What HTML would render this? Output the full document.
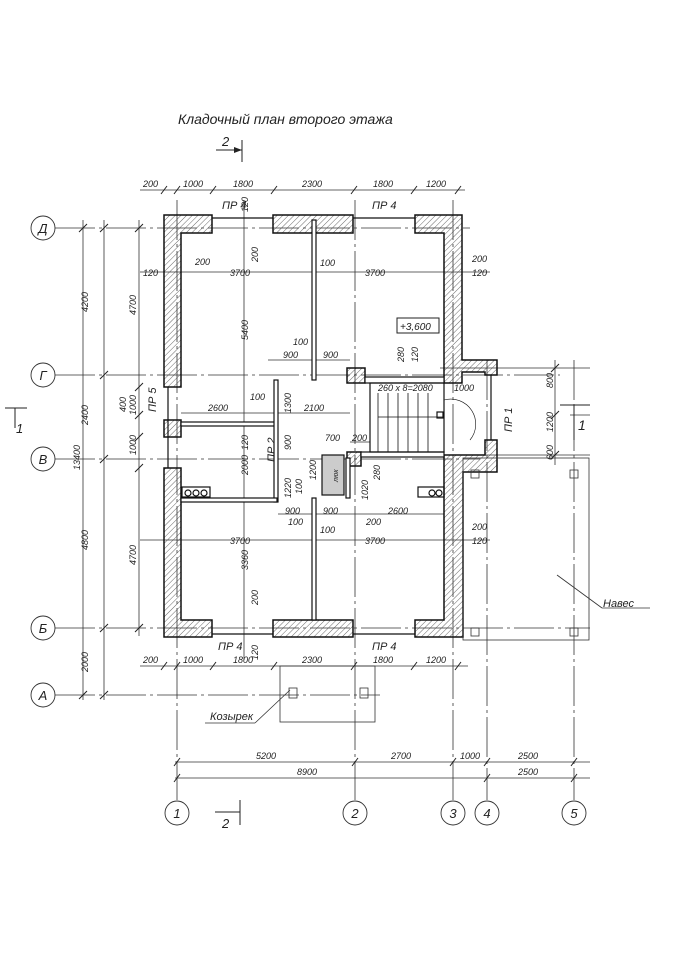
<!DOCTYPE html>
<html><head><meta charset="utf-8"><style>
html,body{margin:0;padding:0;background:#fff;}
svg{display:block;}
text{font-family:"Liberation Sans","DejaVu Sans",sans-serif;font-style:italic;fill:#222;}
</style></head><body>
<svg width="676" height="960" viewBox="0 0 676 960" xmlns="http://www.w3.org/2000/svg">
<defs>
<pattern id="h" width="4" height="4" patternUnits="userSpaceOnUse" patternTransform="rotate(45)">
<line x1="0" y1="0" x2="0" y2="4" stroke="#444" stroke-width="0.8"/>
</pattern>
</defs>
<rect width="676" height="960" fill="#fff"/>
<text x="178" y="124" font-size="14">Кладочный план второго этажа</text>
<text x="222" y="146" font-size="13">2</text>
<line x1="216" y1="150" x2="242" y2="150" stroke="#222"/><line x1="242" y1="140" x2="242" y2="162" stroke="#222"/>
<polygon points="242,150 234,147 234,153" fill="#222"/>

<g stroke="#333" stroke-width="0.8" fill="none">
<g stroke-dasharray="40,4,3,4">
<line x1="55" y1="228" x2="470" y2="228"/>
<line x1="55" y1="375" x2="560" y2="375"/>
<line x1="55" y1="459" x2="480" y2="459"/>
<line x1="55" y1="628" x2="590" y2="628"/>
<line x1="55" y1="695" x2="380" y2="695"/>
<line x1="177" y1="200" x2="177" y2="800"/>
<line x1="355" y1="200" x2="355" y2="800"/>
<line x1="453" y1="200" x2="453" y2="800"/>
<line x1="487" y1="360" x2="487" y2="800"/>
<line x1="574" y1="360" x2="574" y2="800"/>
</g>
<line x1="140" y1="190" x2="465" y2="190"/>
<line x1="140" y1="666" x2="468" y2="666"/>
<line x1="175" y1="762" x2="590" y2="762"/>
<line x1="175" y1="778" x2="590" y2="778"/>
<line x1="83" y1="220" x2="83" y2="700"/>
<line x1="104" y1="220" x2="104" y2="700"/>
<line x1="139" y1="220" x2="139" y2="636"/>
<line x1="140" y1="272" x2="490" y2="272"/>
<line x1="140" y1="540" x2="490" y2="540"/>
<line x1="181" y1="413" x2="350" y2="413"/>
<line x1="268" y1="360" x2="350" y2="360"/>
<line x1="278" y1="514" x2="444" y2="514"/>
<line x1="244" y1="200" x2="244" y2="660"/>
<line x1="440" y1="368" x2="590" y2="368"/>
<line x1="440" y1="455" x2="590" y2="455"/>
<line x1="570" y1="415" x2="590" y2="415"/>
<line x1="555" y1="360" x2="555" y2="465"/>
<line x1="350" y1="442" x2="370" y2="442"/>
</g>
<g stroke="#222" stroke-width="1">
<path d="M161 194l6-8M174 194l6-8M210 194l6-8M271 194l6-8M351 194l6-8M411 194l6-8M455 194l6-8
M161 670l6-8M174 670l6-8M210 670l6-8M271 670l6-8M351 670l6-8M411 670l6-8M455 670l6-8
M174 766l6-8M352 766l6-8M450 766l6-8M484 766l6-8M571 766l6-8
M174 782l6-8M484 782l6-8M571 782l6-8
M79 232l8-8M79 699l8-8M100 232l8-8M100 379l8-8M100 463l8-8M100 632l8-8M100 699l8-8
M135 232l8-8M135 391l8-8M135 419l8-8M135 441l8-8M135 472l8-8M135 632l8-8
M551 372l8-8M551 459l8-8M551 419l8-8"/>
</g>
<g font-size="9">
<text x="143" y="187">200</text><text x="183" y="187">1000</text><text x="233" y="187">1800</text><text x="302" y="187">2300</text><text x="373" y="187">1800</text><text x="426" y="187">1200</text>
<text x="143" y="663">200</text><text x="183" y="663">1000</text><text x="233" y="663">1800</text><text x="302" y="663">2300</text><text x="373" y="663">1800</text><text x="426" y="663">1200</text>
<text x="256" y="759">5200</text><text x="391" y="759">2700</text><text x="460" y="759">1000</text><text x="518" y="759">2500</text>
<text x="297" y="775">8900</text><text x="518" y="775">2500</text>
<text x="230" y="276">3700</text><text x="365" y="276">3700</text>
<text x="230" y="544">3700</text><text x="365" y="544">3700</text>
<text x="143" y="276">120</text><text x="472" y="276">120</text><text x="195" y="265">200</text><text x="472" y="262">200</text>
<text x="472" y="530">200</text><text x="472" y="544">120</text><text x="320" y="266">100</text><text x="320" y="533">100</text>
<text x="208" y="411">2600</text><text x="304" y="411">2100</text><text x="250" y="400">100</text>
<text x="283" y="358">900</text><text x="323" y="358">900</text><text x="293" y="345">100</text>
<text x="325" y="441">700</text><text x="352" y="441">200</text>
<text x="285" y="514">900</text><text x="323" y="514">900</text><text x="388" y="514">2600</text>
<text x="288" y="525">100</text><text x="366" y="525">200</text>
<text x="378" y="391">260 х 8=2080</text><text x="454" y="391">1000</text>
</g>
<g font-size="9">
<text transform="translate(88,312) rotate(-90)">4200</text>
<text transform="translate(88,425) rotate(-90)">2400</text>
<text transform="translate(88,550) rotate(-90)">4800</text>
<text transform="translate(88,672) rotate(-90)">2000</text>
<text transform="translate(80,470) rotate(-90)">13400</text>
<text transform="translate(136,315) rotate(-90)">4700</text>
<text transform="translate(136,565) rotate(-90)">4700</text>
<text transform="translate(136,415) rotate(-90)">1000</text>
<text transform="translate(136,455) rotate(-90)">1000</text>
<text transform="translate(126,412) rotate(-90)">400</text>
<text transform="translate(248,340) rotate(-90)">5400</text>
<text transform="translate(248,570) rotate(-90)">3360</text>
<text transform="translate(248,475) rotate(-90)">2000</text>
<text transform="translate(248,212) rotate(-90)">120</text>
<text transform="translate(258,262) rotate(-90)">200</text>
<text transform="translate(258,605) rotate(-90)">200</text>
<text transform="translate(258,660) rotate(-90)">120</text>
<text transform="translate(248,450) rotate(-90)">120</text>
<text transform="translate(291,413) rotate(-90)">1300</text>
<text transform="translate(291,450) rotate(-90)">900</text>
<text transform="translate(291,498) rotate(-90)">1220</text>
<text transform="translate(302,494) rotate(-90)">100</text>
<text transform="translate(316,480) rotate(-90)">1200</text>
<text transform="translate(368,500) rotate(-90)">1020</text>
<text transform="translate(380,480) rotate(-90)">280</text>
<text transform="translate(404,362) rotate(-90)">280</text>
<text transform="translate(418,362) rotate(-90)">120</text>
<text transform="translate(553,388) rotate(-90)">800</text>
<text transform="translate(553,432) rotate(-90)">1200</text>
<text transform="translate(553,460) rotate(-90)">600</text>
</g>
<g font-size="11">
<text x="222" y="209">ПР 4</text><text x="372" y="209">ПР 4</text>
<text x="218" y="650">ПР 4</text><text x="372" y="650">ПР 4</text>
<text transform="translate(156,412) rotate(-90)">ПР 5</text>
<text transform="translate(275,462) rotate(-90)">ПР 2</text>
<text transform="translate(512,432) rotate(-90)">ПР 1</text>
<text x="603" y="607">Навес</text>
<text x="210" y="720">Козырек</text>
</g>
<rect x="397" y="318" width="42" height="15" fill="none" stroke="#222"/>
<text x="400" y="330" font-size="10">+3,600</text>

<!-- walls -->
<g fill="url(#h)" stroke="#111" stroke-width="1.5">
<path d="M164 215H212V233H181V387H164Z"/>
<rect x="164" y="420" width="17" height="17"/>
<path d="M164 468H181V620H212V637H164Z"/>
<rect x="273" y="215" width="80" height="18"/>
<path d="M415 215H462V360H497V375H485V372H462V383H444V233H415Z"/>
<path d="M444 455H485V440H497V472H463V637H415V620H444Z"/>
<rect x="273" y="620" width="80" height="17"/>
<rect x="347" y="368" width="18" height="15"/>
<rect x="347" y="452" width="14" height="14"/>
</g>
<g fill="none" stroke="#111" stroke-width="1.2">
<line x1="212" y1="218" x2="273" y2="218"/><line x1="353" y1="218" x2="415" y2="218"/>
<line x1="212" y1="634" x2="273" y2="634"/><line x1="353" y1="634" x2="415" y2="634"/>
<line x1="168" y1="387" x2="168" y2="468"/>
<line x1="491" y1="375" x2="491" y2="440"/>
<rect x="312" y="220" width="4" height="160" fill="#fff"/>
<rect x="312" y="498" width="4" height="122" fill="#fff"/>
<rect x="181" y="422" width="96" height="4" fill="#fff"/>
<rect x="274" y="380" width="4" height="122" fill="#fff"/>
<rect x="181" y="498" width="96" height="4" fill="#fff"/>
<rect x="365" y="377" width="79" height="6" fill="#fff"/>
<rect x="361" y="452" width="83" height="5" fill="#fff"/>
<rect x="346" y="458" width="4" height="40" fill="#fff"/>
<rect x="370" y="383" width="74" height="69"/>
<path d="M378 393V452M388 393V452M398 393V452M408 393V452M418 393V452M428 393V452M378 417H444" stroke-width="0.8"/>
<path d="M444 400A25 25 0 0 1 470 440" stroke-width="0.6"/>
<rect x="437" y="412" width="6" height="6"/>
<rect x="322" y="455" width="22" height="40" fill="#ccc"/>
<rect x="182" y="487" width="28" height="10"/>
<rect x="418" y="487" width="26" height="10"/>
<circle cx="188" cy="493" r="3"/><circle cx="196" cy="493" r="3"/><circle cx="204" cy="493" r="3"/>
<circle cx="432" cy="493" r="3"/><circle cx="439" cy="493" r="3"/>
</g>
<text x="326" y="480" font-size="7" transform="rotate(-90 333 475)">люк</text>
<g fill="none" stroke="#333" stroke-width="0.8">
<rect x="463" y="458" width="126" height="182"/>
<rect x="471" y="470" width="8" height="8"/><rect x="570" y="470" width="8" height="8"/>
<rect x="471" y="628" width="8" height="8"/><rect x="570" y="628" width="8" height="8"/>
<line x1="557" y1="575" x2="602" y2="608"/><line x1="602" y1="608" x2="650" y2="608"/>
<rect x="280" y="666" width="95" height="56"/>
<rect x="289" y="688" width="8" height="10"/><rect x="360" y="688" width="8" height="10"/>
<line x1="255" y1="723" x2="290" y2="690"/><line x1="205" y1="723" x2="255" y2="723"/>
</g>
<g fill="#fff" stroke="#333" stroke-width="0.9">
<circle cx="43" cy="228" r="12"/><circle cx="43" cy="375" r="12"/><circle cx="43" cy="459" r="12"/><circle cx="43" cy="628" r="12"/><circle cx="43" cy="695" r="12"/>
<circle cx="177" cy="813" r="12"/><circle cx="355" cy="813" r="12"/><circle cx="453" cy="813" r="12"/><circle cx="487" cy="813" r="12"/><circle cx="574" cy="813" r="12"/>
</g>
<g font-size="13" text-anchor="middle">
<text x="43" y="233">Д</text><text x="43" y="380">Г</text><text x="43" y="464">В</text><text x="43" y="633">Б</text><text x="43" y="700">А</text>
<text x="177" y="818">1</text><text x="355" y="818">2</text><text x="453" y="818">3</text><text x="487" y="818">4</text><text x="574" y="818">5</text>
</g>
<g stroke="#222" fill="none">
<line x1="215" y1="812" x2="240" y2="812"/><line x1="240" y1="800" x2="240" y2="825"/>
<line x1="5" y1="408" x2="27" y2="408"/><line x1="15" y1="408" x2="15" y2="428"/>
<line x1="560" y1="405" x2="590" y2="405"/><line x1="574" y1="405" x2="574" y2="440"/>
</g>
<text x="222" y="828" font-size="13">2</text>
<text x="16" y="433" font-size="13">1</text>
<text x="578" y="430" font-size="14">1</text>
</svg>
</body></html>
